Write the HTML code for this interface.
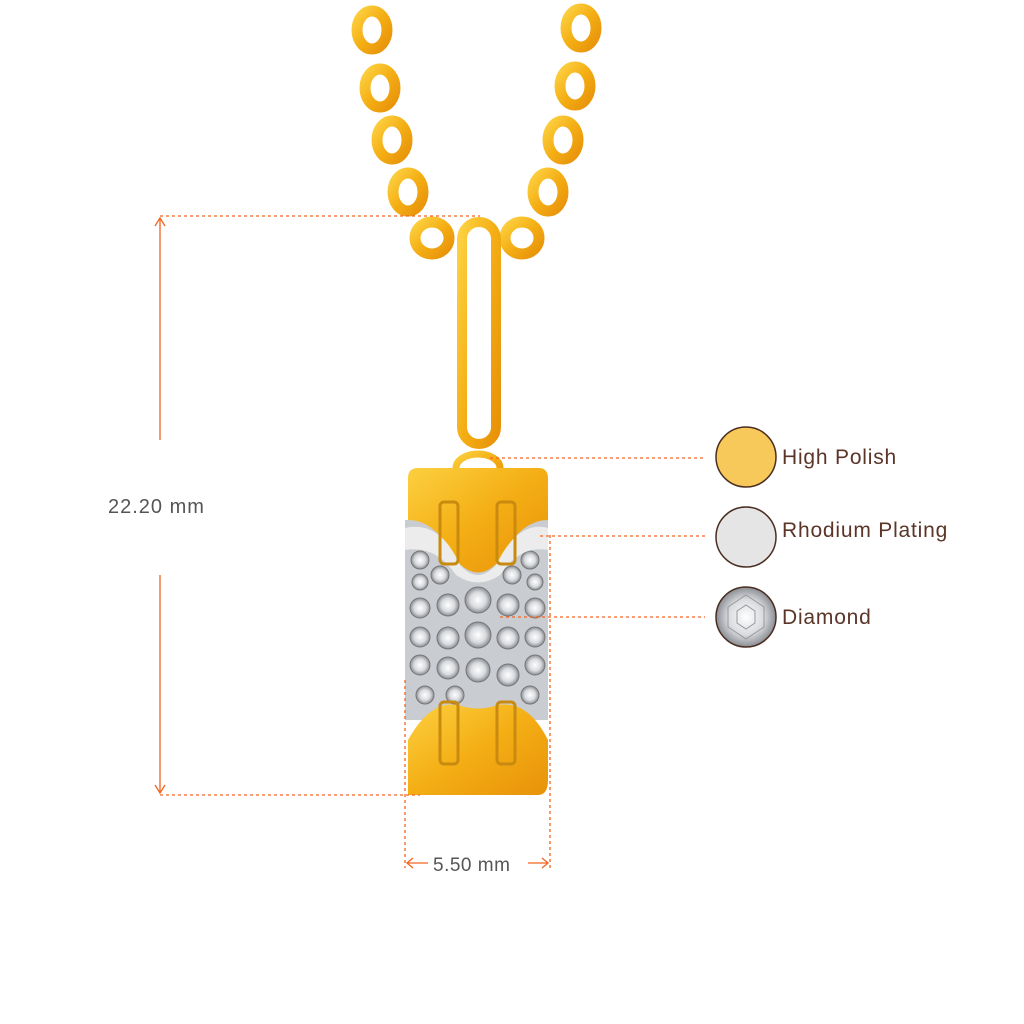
<!DOCTYPE html>
<html><head><meta charset="utf-8"><style>
html,body{margin:0;padding:0;background:#fff;}
svg{display:block;}
text{font-family:"Liberation Sans",sans-serif;}
</style></head><body>
<svg width="1024" height="1024" viewBox="0 0 1024 1024" xmlns="http://www.w3.org/2000/svg">
<defs>
<linearGradient id="g" x1="0" x2="1" y1="0" y2="1">
<stop offset="0" stop-color="#fcd040"/><stop offset="0.5" stop-color="#f4ae14"/><stop offset="1" stop-color="#e8920a"/>
</linearGradient>
<radialGradient id="d"><stop offset="0" stop-color="#ffffff"/><stop offset="0.6" stop-color="#d8dade"/><stop offset="1" stop-color="#8a8d92"/></radialGradient>
</defs>
<rect width="1024" height="1024" fill="#fff"/>
<g fill="none" stroke="url(#g)" stroke-width="11">
<ellipse cx="372" cy="30" rx="15" ry="19"/>
<ellipse cx="380" cy="88" rx="15" ry="19"/>
<ellipse cx="392" cy="140" rx="15" ry="19"/>
<ellipse cx="408" cy="192" rx="15" ry="19"/>
<ellipse cx="432" cy="238" rx="17" ry="16"/>
<ellipse cx="581" cy="28" rx="15" ry="19"/>
<ellipse cx="575" cy="86" rx="15" ry="19"/>
<ellipse cx="563" cy="140" rx="15" ry="19"/>
<ellipse cx="548" cy="192" rx="15" ry="19"/>
<ellipse cx="522" cy="238" rx="17" ry="16"/>
</g>
<rect x="462" y="222" width="34" height="222" rx="17" fill="none" stroke="url(#g)" stroke-width="10"/>
<ellipse cx="478" cy="468" rx="22" ry="14" fill="none" stroke="url(#g)" stroke-width="7"/>
<rect x="405" y="520" width="143" height="200" fill="#c9ccd0"/>
<g fill="url(#d)" stroke="#777" stroke-width="1">
<circle cx="420" cy="560" r="9"/><circle cx="440" cy="575" r="9"/><circle cx="420" cy="582" r="8"/>
<circle cx="530" cy="560" r="9"/><circle cx="512" cy="575" r="9"/><circle cx="535" cy="582" r="8"/>
<circle cx="478" cy="600" r="13"/><circle cx="448" cy="605" r="11"/><circle cx="508" cy="605" r="11"/>
<circle cx="420" cy="608" r="10"/><circle cx="535" cy="608" r="10"/>
<circle cx="478" cy="635" r="13"/><circle cx="448" cy="638" r="11"/><circle cx="508" cy="638" r="11"/>
<circle cx="420" cy="637" r="10"/><circle cx="535" cy="637" r="10"/>
<circle cx="478" cy="670" r="12"/><circle cx="448" cy="668" r="11"/><circle cx="508" cy="675" r="11"/>
<circle cx="420" cy="665" r="10"/><circle cx="535" cy="665" r="10"/>
<circle cx="425" cy="695" r="9"/><circle cx="530" cy="695" r="9"/><circle cx="455" cy="695" r="9"/>
</g>
<path d="M408,478 Q408,468 418,468 L538,468 Q548,468 548,478 L548,520 Q520,520 500,560 Q478,585 456,560 Q436,520 408,520 Z" fill="url(#g)"/>
<path d="M405,528 Q440,520 460,565 Q478,585 496,565 Q518,520 548,528 L548,550 Q520,545 500,575 Q478,590 456,575 Q436,545 405,550 Z" fill="#f0f0f0" opacity="0.9"/>
<rect x="440" y="502" width="18" height="62" rx="4" fill="none" stroke="#c98a10" stroke-width="3"/>
<rect x="497" y="502" width="18" height="62" rx="4" fill="none" stroke="#c98a10" stroke-width="3"/>
<path d="M408,795 L408,740 Q430,700 458,705 Q478,712 498,705 Q528,700 548,740 L548,780 Q548,795 538,795 Z" fill="url(#g)"/>
<rect x="440" y="702" width="18" height="62" rx="4" fill="none" stroke="#c98a10" stroke-width="3"/>
<rect x="497" y="702" width="18" height="62" rx="4" fill="none" stroke="#c98a10" stroke-width="3"/>
<g stroke="#f26522" stroke-width="1.3" fill="none">
<line x1="160" y1="216" x2="480" y2="216" stroke-dasharray="3,3"/>
<line x1="160" y1="795" x2="420" y2="795" stroke-dasharray="3,3"/>
<line x1="160" y1="218" x2="160" y2="440"/>
<line x1="160" y1="575" x2="160" y2="793"/>
<path d="M155,226 L160,218 L165,226 M155,785 L160,793 L165,785"/>
<line x1="405" y1="680" x2="405" y2="868" stroke-dasharray="3,3"/>
<line x1="550" y1="535" x2="550" y2="868" stroke-dasharray="3,3"/>
<line x1="407" y1="863" x2="428" y2="863"/>
<line x1="528" y1="863" x2="548" y2="863"/>
<path d="M413,858 L407,863 L413,868 M542,858 L548,863 L542,868"/>
<line x1="490" y1="458" x2="705" y2="458" stroke-dasharray="3,3"/>
<line x1="540" y1="536" x2="705" y2="536" stroke-dasharray="3,3"/>
<line x1="500" y1="617" x2="705" y2="617" stroke-dasharray="3,3"/>
</g>
<text x="108" y="513" font-size="20" letter-spacing="1" fill="#555">22.20 mm</text>
<text x="433" y="871" font-size="19" letter-spacing="0.5" fill="#555">5.50 mm</text>
<circle cx="746" cy="457" r="30" fill="#f7c85a" stroke="#4a2e22" stroke-width="1.5"/>
<circle cx="746" cy="537" r="30" fill="#e5e5e5" stroke="#4a2e22" stroke-width="1.5"/>
<circle cx="746" cy="617" r="30" fill="url(#d)" stroke="#4a2e22" stroke-width="1.5"/>
<g stroke="#999" stroke-width="1" fill="none">
<polygon points="746,595 764,607 764,627 746,639 728,627 728,607"/>
<polygon points="746,605 755,611 755,623 746,629 737,623 737,611"/>
</g>
<text x="782" y="464" font-size="21" letter-spacing="0.8" fill="#5a3528">High Polish</text>
<text x="782" y="537" font-size="21" letter-spacing="0.8" fill="#5a3528">Rhodium Plating</text>
<text x="782" y="624" font-size="21" letter-spacing="0.8" fill="#5a3528">Diamond</text>
</svg>
</body></html>
